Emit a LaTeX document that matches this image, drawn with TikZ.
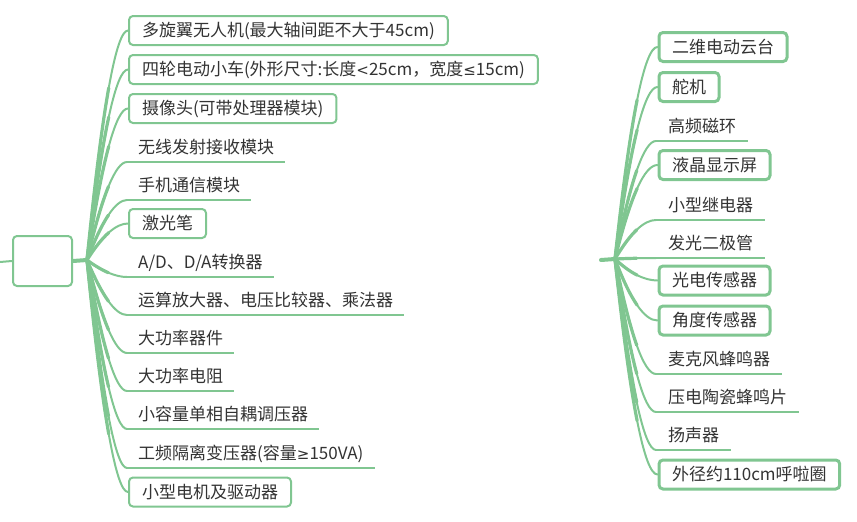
\documentclass[tikz,border=0pt]{standalone}
\usepackage{fontspec}
\setmainfont{Noto Sans CJK SC}
\newfontfamily\symfont{DejaVu Sans}
\usetikzlibrary{calc}
\definecolor{mgreen}{RGB}{128,198,145}
\definecolor{mtext}{RGB}{51,51,51}
\newcommand\mmbranch[3]{%
  \coordinate (mmA) at (#1);
  \coordinate (mmB) at ($(#1)!0.667!(#2 |- #3)$);
  \coordinate (mmC) at ($(#3)!0.667!(#2 |- #3)$);
  \coordinate (mmD) at (#3);
  \draw[conn] (mmA) .. controls (mmB) and (mmC) .. (mmD);
  \draw[conn, line width=3.2pt] (mmA) .. controls ($(mmA)!0.5!(mmB)$) and ($0.25*(mmA)+0.5*(mmB)+0.25*(mmC)$) .. ($0.125*(mmA)+0.375*(mmB)+0.375*(mmC)+0.125*(mmD)$);
}
\begin{document}
\begin{tikzpicture}[x=1pt,y=-1pt,
  txt/.style={font=\fontsize{17pt}{20pt}\selectfont, text=mtext, text height=15pt, text depth=2.4pt, inner ysep=6.3pt, inner xsep=13pt},
  lbox/.style={txt, draw=mgreen, line width=2pt, rounded corners=4pt, fill=white, inner ysep=5pt, minimum height=29pt, anchor=west},
  rbox/.style={lbox, line width=3pt},
  uline/.style={txt, anchor=south west, inner xsep=11pt},
  rline/.style={uline, inner xsep=12pt},
  conn/.style={draw=mgreen, line width=2pt, line cap=round},
  ulin/.style={draw=mgreen, line width=2pt},
]
\useasboundingbox (0,0) rectangle (857,522);

% root
\node[lbox, anchor=center, minimum width=59pt, minimum height=50pt] (root) at (42.5,261) {};
\coordinate (LS) at (0,262);
\coordinate (O) at (87,260);
\coordinate (LX) at (110,0);
\draw[conn] (LS) -- (root.west);
\draw[conn, line width=4pt] (root.east) -- (O);

% left children
\node[lbox] (L1) at (128,30.5) {多旋翼无人机(最大轴间距不大于45cm)};
\node[lbox] (L2) at (128,69.5) {四轮电动小车(外形尺寸:长度{\symfont\fontsize{15pt}{18pt}\selectfont <}25cm，宽度{\symfont\fontsize{15pt}{18pt}\selectfont ≤}15cm)};
\node[lbox] (L3) at (128,108.5) {摄像头(可带处理器模块)};
\node[uline] (L4) at (127,162) {无线发射接收模块};
\node[uline] (L5) at (127,200) {手机通信模块};
\node[lbox] (L6) at (128,223.5) {激光笔};
\node[uline] (L7) at (127,277) {A/D、D/A转换器};
\node[uline] (L8) at (127,315) {运算放大器、电压比较器、乘法器};
\node[uline] (L9) at (127,353) {大功率器件};
\node[uline] (L10) at (127,391) {大功率电阻};
\node[uline] (L11) at (127,429) {小容量单相自耦调压器};
\node[uline] (L12) at (127,468) {工频隔离变压器(容量{\symfont\fontsize{15pt}{18pt}\selectfont ≥}150VA)};
\node[lbox] (L13) at (128,492) {小型电机及驱动器};

\foreach \n in {L4,L5,L7,L8,L9,L10,L11,L12}{
  \draw[ulin] (\n.south west) -- (\n.south east);
}
\foreach \n in {L1,L2,L3,L6,L13}{
  \mmbranch{O}{LX}{\n.west}
}
\foreach \n in {L4,L5,L7,L8,L9,L10,L11,L12}{
  \mmbranch{O}{LX}{\n.south west}
}

% right side
\coordinate (RS) at (601,260);
\coordinate (RO) at (615,259);
\coordinate (RX) at (638,0);
\draw[conn, line width=4pt] (RS) -- (RO);

\node[rbox] (R1) at (657.5,47) {二维电动云台};
\node[rbox] (R2) at (657.5,87) {舵机};
\node[rline] (R3) at (656,141) {高频磁环};
\node[rbox] (R4) at (657.5,165) {液晶显示屏};
\node[rline] (R5) at (656,220) {小型继电器};
\node[rline] (R6) at (656,258) {发光二极管};
\node[rbox] (R7) at (657.5,280.5) {光电传感器};
\node[rbox] (R8) at (657.5,320.5) {角度传感器};
\node[rline] (R9) at (656,374) {麦克风蜂鸣器};
\node[rline] (R10) at (656,412) {压电陶瓷蜂鸣片};
\node[rline] (R11) at (656,450) {扬声器};
\node[rbox] (R12) at (657.5,474.5) {外径约110cm呼啦圈};

\foreach \n in {R3,R5,R6,R9,R10,R11}{
  \draw[ulin, line width=1.6pt] (\n.south west) -- (\n.south east);
}
\foreach \n in {R1,R2,R4,R7,R8,R12}{
  \mmbranch{RO}{RX}{\n.west}
}
\foreach \n in {R3,R5,R6,R9,R10,R11}{
  \mmbranch{RO}{RX}{\n.south west}
}
\end{tikzpicture}
\end{document}
